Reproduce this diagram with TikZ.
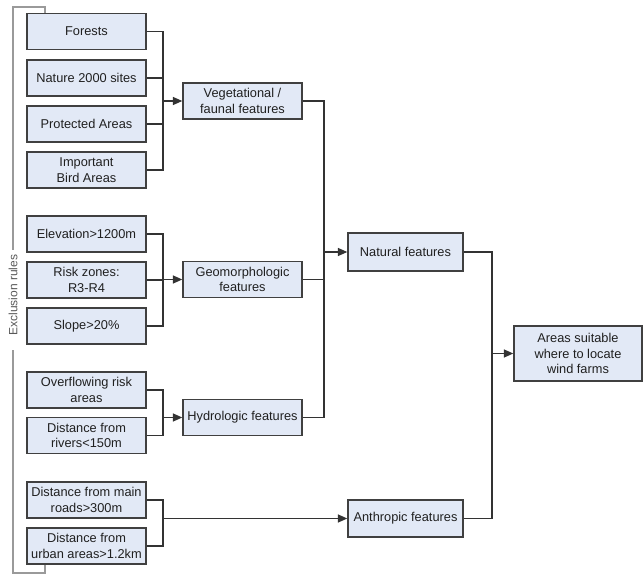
\documentclass[tikz,border=0pt]{standalone}
\usepackage{fontspec}
\setmainfont{Liberation Sans}
\usetikzlibrary{arrows.meta}
\definecolor{boxfill}{HTML}{E2E9F6}
\definecolor{boxline}{HTML}{404040}
\definecolor{txt}{HTML}{202020}
\definecolor{brk}{HTML}{9A9A9A}
\tikzset{
  box/.style={draw=boxline, line width=1.1pt, fill=boxfill, text=txt,
    align=center, inner sep=1pt, font=\fontsize{9.6}{11.6}\selectfont},
  lbox/.style={box, minimum width=119*0.75pt, minimum height=36*0.75pt},
  conn/.style={draw=black!80, line width=0.9pt},
  arr/.style={conn, -{Triangle[length=7pt,width=6pt]}},
  bracket/.style={draw=brk, line width=0.8pt}
}
\begin{document}
\begin{tikzpicture}[x=0.75pt,y=-0.75pt]
\useasboundingbox (0,0) rectangle (643,574);
% left boxes
\node[lbox] (forests) at (86.5,31.5) {Forests};
\node[lbox] (nature) at (86.5,78) {Nature 2000 sites};
\node[lbox] (prot) at (86.5,124) {Protected Areas};
\node[lbox] (bird) at (86.5,170) {Important\\Bird Areas};
\node[lbox] (elev) at (86.5,234) {Elevation>1200m};
\node[lbox] (risk) at (86.5,280) {Risk zones:\\R3-R4};
\node[lbox] (slope) at (86.5,326) {Slope>20\%};
\node[lbox] (over) at (86.5,390) {Overflowing risk\\areas};
\node[lbox] (rivers) at (86.5,435.5) {Distance from\\rivers<150m};
\node[lbox] (roads) at (86.5,500) {Distance from main\\roads>300m};
\node[lbox] (urban) at (86.5,546) {Distance from\\urban areas>1.2km};
% middle boxes
\node[lbox] (veg) at (242.5,101) {Vegetational /\\faunal features};
\node[lbox] (geo) at (242.5,279.5) {Geomorphologic\\features};
\node[lbox] (hydro) at (242.5,417.5) {Hydrologic features};
% right boxes
\node[box, minimum width=115*0.75pt, minimum height=38*0.75pt] (nat) at (405.5,252) {Natural features};
\node[box, minimum width=115*0.75pt, minimum height=37*0.75pt] (anth) at (405.5,518.5) {Anthropic features};
\node[box, minimum width=128*0.75pt, minimum height=55*0.75pt] (areas) at (578,353.5) {Areas suitable\\where to locate\\wind farms};
% bus coordinates
\coordinate (bx) at (163,0);
\coordinate (nx) at (324,0);
\coordinate (fx) at (492,0);
% vegetational group
\draw[conn] (forests.east) -- (forests.east -| bx) -- (bird.east -| bx) -- (bird.east);
\draw[conn] (nature.east) -- (nature.east -| bx);
\draw[conn] (prot.east) -- (prot.east -| bx);
\draw[arr] (veg.west -| bx) -- (veg.west);
% geomorphologic group
\draw[conn] (elev.east) -- (elev.east -| bx) -- (slope.east -| bx) -- (slope.east);
\draw[conn] (risk.east) -- (risk.east -| bx);
\draw[arr] (geo.west -| bx) -- (geo.west);
% hydrologic group
\draw[conn] (over.east) -- (over.east -| bx) -- (rivers.east -| bx) -- (rivers.east);
\draw[arr] (hydro.west -| bx) -- (hydro.west);
% anthropic group
\draw[conn] (roads.east) -- (roads.east -| bx) -- (urban.east -| bx) -- (urban.east);
\draw[arr] (anth.west -| bx) -- (anth.west);
% natural
\draw[conn] (veg.east) -- (veg.east -| nx) -- (hydro.east -| nx) -- (hydro.east);
\draw[conn] (geo.east) -- (geo.east -| nx);
\draw[arr] (nat.west -| nx) -- (nat.west);
% final
\draw[conn] (nat.east) -- (nat.east -| fx) -- (anth.east -| fx) -- (anth.east);
\draw[arr] (areas.west -| fx) -- (areas.west);
% exclusion bracket
\coordinate (bt) at (45,13);
\coordinate (bb) at (45,565);
\draw[bracket] (bt) -- (45,7) -- (13,7) -- (13,250);
\draw[bracket] (13,350) -- (13,573) -- (45,573) -- (bb);
\node[rotate=90, text=black!65, font=\fontsize{9}{11}\selectfont, inner sep=0pt] (excl) at (13,295) {Exclusion rules};
\end{tikzpicture}
\end{document}
